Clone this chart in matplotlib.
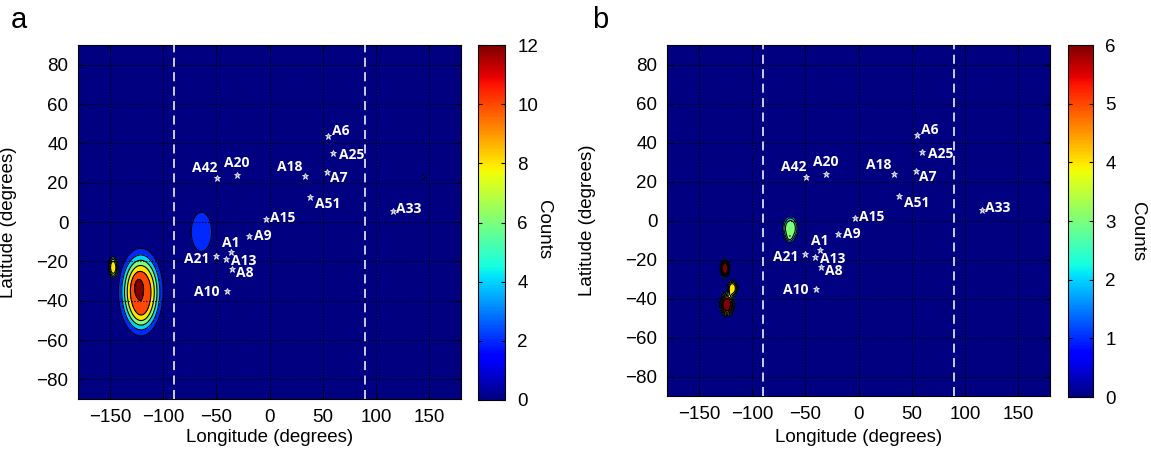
import numpy as np
import matplotlib
matplotlib.use("Agg")
import matplotlib.pyplot as plt
from matplotlib.colors import Normalize
from matplotlib.cm import ScalarMappable

plt.rcParams["font.family"] = ["Liberation Sans", "DejaVu Sans"]

# site markers (lon, lat in degrees)
site_names = ["A6", "A25", "A7", "A18", "A20", "A42", "A51", "A33",
              "A15", "A9", "A1", "A21", "A13", "A8", "A10"]
site_lon = [55.3, 60.0, 53.8, 33.4, -30.8, -49.6, 38.1, 115.9,
            -3.2, -18.9, -36.4, -50.3, -41.1, -35.5, -40.2]
site_lat = [43.6, 35.2, 25.3, 23.6, 24.1, 22.5, 12.6, 5.5,
            1.3, -6.9, -15.3, -17.4, -18.7, -23.8, -35.1]

# density clusters, panel a: centre, spread, peak count, edge sharpness
a_lon = [-121.0, -124.0, -120.0, -147.0, -64.0, 145.0]
a_lat = [-35.5, -32.0, -48.0, -23.0, -5.0, 22.8]
a_sx = [13.8, 3.5, 7.0, 3.4, 9.3, 1.3]
a_sy = [14.5, 4.0, 5.0, 4.2, 9.7, 1.3]
a_peak = [11.8, 1.0, 1.0, 9.0, 3.5, 2.5]
a_sharp = [1.5, 1, 1, 2, 2, 1]

# density clusters, panel b
b_lon = [-64.0, -65.0, -125.5, -118.6, -123.5, -124.5]
b_lat = [-4.0, -9.5, -24.6, -34.8, -43.0, -43.5]
b_sx = [5.8, 2.5, 3.2, 3.8, 5.2, 2.5]
b_sy = [5.0, 1.6, 3.6, 3.2, 4.6, 2.5]
b_peak = [3.7, 1.6, 7.0, 4.7, 6.2, 1.0]
b_sharp = [2, 1, 2, 2, 2, 1]

a_levels = [0, 2, 4, 6, 8, 10, 12]
b_levels = [0, 1, 2, 3, 4, 5, 6]

# label offsets in pixels (dx, dy) and alignment
LABEL_OFFSETS = {
    "A6": (4, 5, "left"), "A25": (6, -2, "left"), "A7": (3, -6, "left"),
    "A18": (-15, 9, "center"), "A20": (0, 12, "center"), "A42": (-12, 10, "center"),
    "A51": (5, -7, "left"), "A33": (3, 2, "left"), "A15": (4, 1, "left"),
    "A9": (5, 0, "left"), "A1": (0, 9, "center"), "A21": (-7, -3, "right"),
    "A13": (5, -2, "left"), "A8": (4, -4, "left"), "A10": (-7, -1, "right"),
}

lon = np.arange(-180, 180.25, 0.5)
lat = np.arange(-90, 90.25, 0.5)
LON, LAT = np.meshgrid(lon, lat)


def density(cx, cy, sx, sy, peak, sharp):
    z = np.zeros_like(LON)
    for x0, y0, wx, wy, p, k in zip(cx, cy, sx, sy, peak, sharp):
        d2 = ((LON - x0) / wx) ** 2 + ((LAT - y0) / wy) ** 2
        z += p * np.exp(-0.5 * d2 ** k)
    return z


def draw_panel(fig, rect, crect, z, levels, vmax, letter, letter_xy, ylab_x, xlab_y, counts_xy):
    ax = fig.add_axes(rect)
    cax = fig.add_axes(crect)
    cmap = plt.get_cmap("jet")
    norm = Normalize(0, vmax)
    fill_levels = list(levels) + [1e3]
    colors = [cmap(norm(v)) for v in levels]
    ax.contourf(lon, lat, z, levels=fill_levels, colors=colors)
    ax.contour(lon, lat, z, levels=levels[1:], colors="k", linewidths=0.8)

    for x in (-90, 90):
        ax.axvline(x, color="#dcdcec", ls=(0, (5, 3)), lw=1.3, zorder=3)

    ax.plot(site_lon, site_lat, ls="none", marker="*", ms=5, mfc="#8f8fc8",
            mec="#f0f0f0", mew=0.6, zorder=4)
    for name, x, y in zip(site_names, site_lon, site_lat):
        dx, dy, ha = LABEL_OFFSETS[name]
        ax.annotate(name, (x, y), xytext=(dx * 0.72, dy * 0.72), textcoords="offset points",
                    ha=ha, va="center", color="white", fontsize=10,
                    fontweight="bold", family="Open Sans", zorder=5)

    ax.set_xlim(-180, 180)
    ax.set_ylim(-90, 90)
    ax.set_xticks(np.arange(-150, 151, 50))
    ax.set_yticks(np.arange(-80, 81, 20))
    ax.set_axisbelow(False)
    ax.grid(True, color="k", ls=":", lw=0.8)
    ax.tick_params(direction="in", length=4, top=True, right=True, labelsize=13.5, pad=7)
    ax.set_xlabel("Longitude (degrees)", fontsize=13.5, va="top")
    ax.set_ylabel("Latitude (degrees)", fontsize=13.5, va="bottom")
    ax.xaxis.set_label_coords(0.5, xlab_y)
    ax.yaxis.set_label_coords(ylab_x, 0.5)

    sm = ScalarMappable(norm=norm, cmap=cmap)
    cb = fig.colorbar(sm, cax=cax, ticks=levels)
    cb.outline.set_linewidth(0.8)
    cax.tick_params(direction="in", length=3, left=True, right=True, labelsize=13.5, pad=9)
    fig.text(counts_xy[0], counts_xy[1], "Counts", rotation=270, ha="center", va="center",
             fontsize=13.5)
    fig.text(letter_xy[0], letter_xy[1], letter, ha="center", va="center", fontsize=21)


W, H = 1151, 457
fig = plt.figure(figsize=(W / 100, H / 100), dpi=100)


def frac(x0, y0, x1, y1):
    return [x0 / W, 1 - y1 / H, (x1 - x0) / W, (y1 - y0) / H]


za = density(a_lon, a_lat, a_sx, a_sy, a_peak, a_sharp)
zb = density(b_lon, b_lat, b_sx, b_sy, b_peak, b_sharp)

draw_panel(fig, frac(78, 45, 461, 399), frac(478, 45, 505, 400), za, a_levels, 12,
           "a", (19 / W, 1 - 20 / H), -0.16, -0.085, (543 / W, 1 - 230 / H))
draw_panel(fig, frac(667, 45, 1050, 396), frac(1068, 45, 1093, 397), zb, b_levels, 6,
           "b", (600 / W, 1 - 20 / H), -0.186, -0.095, (1137 / W, 1 - 232 / H))

fig.savefig("out.png", dpi=100)
